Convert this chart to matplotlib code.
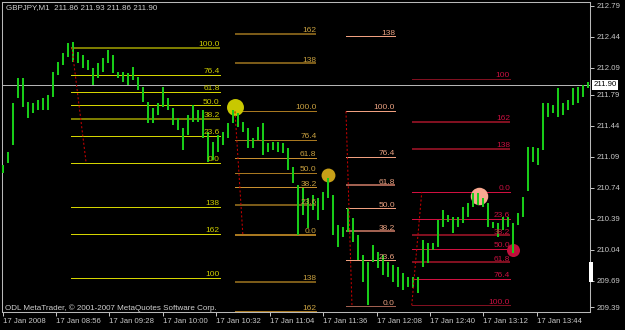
import numpy as np
import matplotlib
matplotlib.use('Agg')
import matplotlib.pyplot as plt
from matplotlib.transforms import offset_copy, blended_transform_factory
from matplotlib.patches import Rectangle

plt.rcParams['font.family'] = ['Liberation Sans', 'DejaVu Sans']

# GBPJPY M1, one bar every 3 minutes, minutes after the first bar
bar_min = np.arange(0, 352, 3)
highs = [211.00, 211.14, 211.70, 211.98, 211.98, 211.71, 211.70, 211.73, 211.75, 211.79,
         212.05, 212.16, 212.26, 212.37, 212.38, 212.27, 212.24, 212.18, 212.09, 212.15,
         212.20, 212.29, 212.24, 212.05, 212.05, 212.03, 212.10, 211.99, 211.88, 211.71,
         211.64, 211.70, 211.88, 211.75, 211.64, 211.53, 211.41, 211.56, 211.67, 211.62,
         211.62, 211.37, 211.26, 211.33, 211.37, 211.47, 211.62, 211.58, 211.48, 211.41,
         211.30, 211.42, 211.47, 211.24, 211.26, 211.26, 211.24, 211.19, 210.97, 210.77,
         210.74, 210.62, 210.66, 210.62, 210.69, 210.85, 210.66, 210.32, 210.30, 210.51,
         210.40, 210.21, 209.98, 209.90, 210.09, 210.01, 209.98, 209.90, 209.87, 209.84,
         209.78, 209.73, 209.73, 209.73, 210.15, 210.11, 210.11, 210.37, 210.49, 210.43,
         210.41, 210.41, 210.52, 210.57, 210.68, 210.68, 210.62, 210.57, 210.35, 210.34,
         210.41, 210.41, 210.34, 210.45, 210.63, 211.20, 211.20, 211.19, 211.70, 211.70,
         211.67, 211.86, 211.70, 211.73, 211.86, 211.88, 211.90, 211.93]
lows = [210.90, 211.02, 211.22, 211.75, 211.65, 211.53, 211.58, 211.62, 211.62, 211.62,
        211.76, 212.01, 212.12, 212.21, 212.16, 212.15, 212.09, 212.07, 211.90, 211.98,
        212.05, 212.15, 212.03, 211.98, 211.93, 211.90, 211.95, 211.84, 211.71, 211.47,
        211.47, 211.56, 211.65, 211.62, 211.45, 211.39, 211.16, 211.33, 211.48, 211.48,
        211.30, 211.03, 211.05, 211.14, 211.22, 211.30, 211.47, 211.42, 211.37, 211.19,
        211.19, 211.28, 211.11, 211.14, 211.16, 211.14, 211.13, 210.94, 210.79, 210.21,
        210.43, 210.28, 210.49, 210.37, 210.49, 210.62, 210.21, 210.07, 210.18, 210.24,
        210.13, 209.92, 209.67, 209.41, 209.90, 209.83, 209.75, 209.73, 209.67, 209.62,
        209.58, 209.62, 209.61, 209.55, 209.84, 209.89, 210.04, 210.07, 210.30, 210.35,
        210.23, 210.30, 210.34, 210.41, 210.52, 210.54, 210.52, 210.30, 210.28, 210.18,
        210.26, 210.30, 210.00, 210.32, 210.41, 210.70, 211.03, 211.00, 211.16, 211.54,
        211.58, 211.54, 211.56, 211.62, 211.67, 211.70, 211.76, 211.86]

bid = 211.90
header = "GBPJPY,M1  211.86 211.93 211.86 211.90"

price_ticks = [212.79, 212.44, 212.09, 211.79, 211.44, 211.09, 210.74, 210.39, 210.04, 209.69, 209.39]
time_ticks = [0, 32, 64, 96, 128, 160, 192, 224, 256, 288, 320]
time_labels = ["17 Jan 2008", "17 Jan 08:56", "17 Jan 09:28", "17 Jan 10:00", "17 Jan 10:32",
               "17 Jan 11:04", "17 Jan 11:36", "17 Jan 12:08", "17 Jan 12:40", "17 Jan 13:12",
               "17 Jan 13:44"]

# fibonacci objects: time span, price at 100 and at 0, levels
fib1_time = (41, 130)
fib1_price = (212.32, 211.02)
fib1_levels = [1.0, 0.764, 0.618, 0.5, 0.382, 0.236, 0.0, -0.38, -0.618, -1.0]
fib1_labels = ['100.0', '76.4', '61.8', '50.0', '38.2', '23.6', '0.0', '138', '162', '100']

fib2_time = (139, 188)
fib2_price = (211.61, 210.21)
fib2_levels = [1.618, 1.38, 1.0, 0.764, 0.618, 0.5, 0.382, 0.236, 0.0, -0.38, -0.618]
fib2_labels = ['162', '138', '100.0', '76.4', '61.8', '50.0', '38.2', '23.6', '0.0', '138', '162']

fib3_time = (206, 235)
fib3_price = (211.61, 209.40)
fib3_levels = [1.38, 1.0, 0.764, 0.618, 0.5, 0.382, 0.236, 0.0]
fib3_labels = ['138', '100.0', '76.4', '61.8', '50.0', '38.2', '23.6', '0.0']

fib4_time = (245, 304)
fib4_price = (209.41, 210.69)
fib4_levels = [-1.0, -0.618, -0.38, 0.0, 0.236, 0.382, 0.5, 0.618, 0.764, 1.0]
fib4_labels = ['100', '162', '138', '0.0', '23.6', '38.2', '50.0', '61.8', '76.4', '100.0']

# dotted trend line of each fib object
trend_t = [(41.5, 50.0), (139.2, 143.9), (205.7, 209.3), (245.1, 251.1)]
trend_p = [(212.32, 211.02), (211.60, 210.21), (211.60, 209.40), (209.41, 210.69)]

# marked points
mark_t = [139.2, 194.9, 285.2, 305.6]
mark_p = [211.65, 210.88, 210.65, 210.04]

fig = plt.figure(figsize=(6.25, 3.3), dpi=100, facecolor='black')
W, H = 625, 330
ax = fig.add_axes([2 / W, (H - 312) / H, 588 / W, 310 / H])
ax.set_facecolor('black')
ax.set_xlim(-0.4, 351.9)
ax.set_ylim(209.335, 212.835)

# bars
ax.vlines(bar_min, lows, highs, colors='#18cc18', linewidths=1.45, zorder=4)

# marks (under the bars)
mark_col = ['#c8c800', '#c8a018', '#f8a890', '#c0103c']
mark_size = [12.2, 10.0, 12.6, 9.4]
for t, p, c, s in zip(mark_t, mark_p, mark_col, mark_size):
    ax.plot(t, p, 'o', ms=s, color=c, mec='none', zorder=3)

lab_tr = offset_copy(ax.transData, fig=fig, x=0, y=1.5, units='dots')

Y1, O1 = '#d4d400', '#7c7c00'
G1, G2, G3 = '#a87820', '#c89030', '#7a5a18'
S1, S2 = '#f0a080', '#a06050'
R1, R2 = '#d01040', '#801020'
fib_styles = [
    ([O1, Y1, Y1, Y1, O1, Y1, Y1, Y1, Y1, Y1], [2, 1, 1, 1, 2, 1, 1, 1, 1, 1], '#cccc00'),
    ([G3, G3, G1, G1, G2, G1, G2, G3, G1, G3, G1], [2, 2, 1, 1, 1, 1, 1, 2, 2, 2, 1], '#c8a040'),
    ([S1, S1, S1, S2, S1, S2, S1, S2], [1, 1, 1, 2, 1, 2, 1, 1], '#e8a080'),
    ([R2, R2, R2, R1, R1, R2, R1, R2, R1, R2], [1, 2, 2, 1, 1, 2, 1, 2, 1, 1], '#c81040'),
]
fibs = [(fib1_time, fib1_price, fib1_levels, fib1_labels),
        (fib2_time, fib2_price, fib2_levels, fib2_labels),
        (fib3_time, fib3_price, fib3_levels, fib3_labels),
        (fib4_time, fib4_price, fib4_levels, fib4_labels)]
for (tt, pp, levels, labels), (cols, wids, lcol) in zip(fibs, fib_styles):
    p100, p0 = pp
    prices = p0 + np.array(levels) * (p100 - p0)
    ax.hlines(prices, tt[0], tt[1], colors=cols, linewidths=[w * 0.72 for w in wids],
              antialiased=False, zorder=2, clip_on=False)
    for p, lab in zip(prices, labels):
        ax.text(tt[1], p, lab, transform=lab_tr, ha='right', va='baseline',
                fontsize=6, color=lcol, zorder=5)

for tt, pp in zip(trend_t, trend_p):
    ax.plot(tt, pp, color='#c80000', lw=0.75, ls=(0, (2, 2)), zorder=5)

ax.axhline(bid, color='#b4b4b4', lw=0.72, antialiased=False, zorder=1)

# axes look
for sp in ax.spines.values():
    sp.set_color('#b8b8b8')
    sp.set_linewidth(0.75)
ax.yaxis.tick_right()
ax.set_yticks(price_ticks)
ax.set_yticklabels(['%.2f' % v for v in price_ticks])
ax.set_xticks(time_ticks)
ax.set_xticklabels(time_labels)
ax.tick_params(axis='both', colors='#c8c8c8', labelsize=5.6, length=3, width=0.7, direction='out')
ax.tick_params(axis='y', pad=2)
ax.tick_params(axis='x', pad=1.5)
for lab in ax.get_xticklabels():
    lab.set_ha('left')

# current price box
tr = blended_transform_factory(ax.transAxes, ax.transData)
ax.text(1.006, bid, '%.2f' % bid, transform=tr, ha='left', va='center', fontsize=5.6,
        color='black', bbox=dict(fc='white', ec='none', pad=1.2), zorder=6, clip_on=False)

fig.patches.append(Rectangle((589 / W, (H - 282) / H), 3.5 / W, 20 / H, fc='white', ec='none',
                             transform=fig.transFigure, figure=fig))

fig.text(6 / W, 1 - 8 / H, header, color='#d0d0d0', fontsize=5.8, va='center', ha='left')
fig.text(5 / W, (H - 308) / H, "ODL MetaTrader, \u00a9 2001-2007 MetaQuotes Software Corp.",
         color='#d0d0d0', fontsize=5.8, va='center', ha='left')

fig.savefig('out.png', dpi=100, facecolor='black')
